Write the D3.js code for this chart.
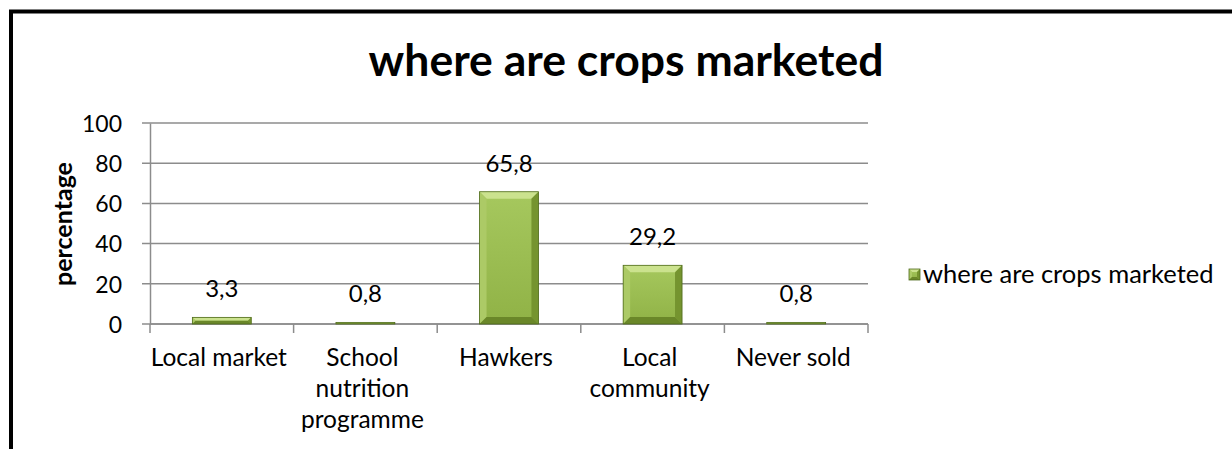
<!DOCTYPE html>
<html>
<head>
<meta charset="utf-8">
<script src="https://cdn.jsdelivr.net/npm/d3@7/dist/d3.min.js"></script>
<style>
  body { margin: 0; background: #fff; }
  text { font-family: Lato, "Open Sans", sans-serif; fill: #000; }
</style>
</head>
<body>
<div class="chart"></div>
<script>
// where are crops marketed - bevelled column chart

var chartTitle = "where are crops marketed";
var seriesName = "where are crops marketed";
var yTitle = "percentage";

var categories = ["Local market", "School nutrition programme", "Hawkers", "Local community", "Never sold"];
var tickLines = [["Local market"], ["School", "nutrition", "programme"], ["Hawkers"], ["Local", "community"], ["Never sold"]];
var values = [3.3, 0.8, 65.8, 29.2, 0.8];
var valueLabels = ["3,3", "0,8", "65,8", "29,2", "0,8"];
var yTicks = [0, 20, 40, 60, 80, 100];

var svgWidth = 1232;
var svgHeight = 449;

var plot = { left: 150, right: 868, top: 123, bottom: 324 };

var svg = d3.select(".chart")
    .append("svg")
    .attr("width", svgWidth)
    .attr("height", svgHeight);

// outer frame (cropped at right/bottom)
svg.append("rect")
    .attr("x", 11)
    .attr("y", 11.5)
    .attr("width", 1400)
    .attr("height", 600)
    .attr("fill", "none")
    .attr("stroke", "#000")
    .attr("stroke-width", 4);

var xScale = d3.scaleBand()
    .domain(categories)
    .range([plot.left, plot.right])
    .padding(0);

var yScale = d3.scaleLinear()
    .domain([0, 100])
    .range([plot.bottom, plot.top]);

// gridlines
svg.append("g")
    .selectAll("line")
    .data(yTicks)
    .enter()
    .append("line")
    .attr("x1", plot.left - 8)
    .attr("x2", plot.right)
    .attr("y1", function(d) { return yScale(d); })
    .attr("y2", function(d) { return yScale(d); })
    .attr("stroke", "#8c8c8c")
    .attr("stroke-width", 1.5);

// y axis
var leftAxis = d3.axisLeft(yScale).tickValues(yTicks).tickSize(0).tickPadding(28);
var yAxisG = svg.append("g")
    .attr("transform", "translate(" + plot.left + ",0)")
    .call(leftAxis);
yAxisG.select(".domain").attr("stroke", "#8c8c8c").attr("stroke-width", 1.5);
yAxisG.selectAll("text")
    .style("font-family", "Lato, sans-serif")
    .style("font-size", "23px")
    .attr("dy", "0.36em");

// x axis
var bottomAxis = d3.axisBottom(xScale).tickSize(0).tickFormat("");
var xAxisG = svg.append("g")
    .attr("transform", "translate(0," + plot.bottom + ")")
    .call(bottomAxis);
xAxisG.select(".domain").remove();
xAxisG.append("line")
    .attr("x1", plot.left).attr("x2", plot.right)
    .attr("stroke", "#8c8c8c").attr("stroke-width", 1.5);
var sepTicks = [plot.left].concat(categories.map(function(c) { return xScale(c) + xScale.bandwidth(); }));
xAxisG.selectAll(".sep")
    .data(sepTicks)
    .enter()
    .append("line")
    .attr("class", "sep")
    .attr("x1", function(d) { return d; })
    .attr("x2", function(d) { return d; })
    .attr("y1", 0)
    .attr("y2", 9)
    .attr("stroke", "#8c8c8c")
    .attr("stroke-width", 1.5);

// category labels
var catLabels = svg.append("g")
    .selectAll("text")
    .data(categories)
    .enter()
    .append("text")
    .attr("text-anchor", "middle")
    .style("font-size", "24.5px")
    .attr("x", function(d) { return xScale(d) + xScale.bandwidth() / 2 - 3; })
    .attr("y", plot.bottom + 42);
catLabels.each(function(d, i) {
    var t = d3.select(this);
    tickLines[i].forEach(function(line, j) {
        t.append("tspan")
            .attr("x", t.attr("x"))
            .attr("dy", j === 0 ? 0 : 31)
            .text(line);
    });
});

// gradients for bevelled bars
var defs = svg.append("defs");
var grad = defs.append("linearGradient")
    .attr("id", "face")
    .attr("x1", 0).attr("y1", 0).attr("x2", 0).attr("y2", 1);
grad.append("stop").attr("offset", "0%").attr("stop-color", "#a6c85e");
grad.append("stop").attr("offset", "100%").attr("stop-color", "#90b246");

function bevelBar(g, x, y, w, h, b) {
    b = Math.min(b, h / 2, w / 2);
    g.append("rect")
        .attr("x", x).attr("y", y).attr("width", w).attr("height", h)
        .attr("fill", "url(#face)");
    var pts = function(a) { return a.map(function(p) { return p.join(","); }).join(" "); };
    // top facet
    g.append("polygon")
        .attr("points", pts([[x, y], [x + w, y], [x + w - b, y + b], [x + b, y + b]]))
        .attr("fill", "#cbe28e");
    // left facet
    g.append("polygon")
        .attr("points", pts([[x, y], [x + b, y + b], [x + b, y + h - b], [x, y + h]]))
        .attr("fill", "#acca66");
    // right facet
    g.append("polygon")
        .attr("points", pts([[x + w, y], [x + w, y + h], [x + w - b, y + h - b], [x + w - b, y + b]]))
        .attr("fill", "#75942f");
    // bottom facet
    g.append("polygon")
        .attr("points", pts([[x, y + h], [x + b, y + h - b], [x + w - b, y + h - b], [x + w, y + h]]))
        .attr("fill", "#6a8729");
    g.append("rect")
        .attr("x", x).attr("y", y).attr("width", w).attr("height", h)
        .attr("fill", "none")
        .attr("stroke", "#4f6a1c")
        .attr("stroke-width", 0.8);
}

var barW = xScale.bandwidth() * 0.41;
var bars = svg.append("g");
values.forEach(function(v, i) {
    var cx = xScale(categories[i]) + xScale.bandwidth() / 2;
    var top = yScale(v);
    bevelBar(bars.append("g"), cx - barW / 2, top, barW, yScale(0) - top, 7);
});

// data labels
svg.append("g")
    .selectAll("text")
    .data(values)
    .enter()
    .append("text")
    .attr("text-anchor", "middle")
    .style("font-size", "24px")
    .attr("x", function(d, i) { return xScale(categories[i]) + xScale.bandwidth() / 2; })
    .attr("y", function(d) { return yScale(d) - 20; })
    .text(function(d, i) { return valueLabels[i]; });

// title
svg.append("text")
    .attr("x", 626)
    .attr("y", 76)
    .attr("text-anchor", "middle")
    .style("font-size", "44.5px")
    .style("font-weight", "bold")
    .text(chartTitle);

// y axis title
svg.append("text")
    .attr("transform", "translate(72,224) rotate(-90)")
    .attr("text-anchor", "middle")
    .style("font-size", "25px")
    .style("font-weight", "bold")
    .text(yTitle);

// legend
var legend = svg.append("g").attr("transform", "translate(909,269)");
bevelBar(legend, 0, 0, 11, 11, 3);
legend.append("text")
    .attr("x", 14)
    .attr("y", 14)
    .style("font-size", "25.5px")
    .text(seriesName);
</script>
</body>
</html>
